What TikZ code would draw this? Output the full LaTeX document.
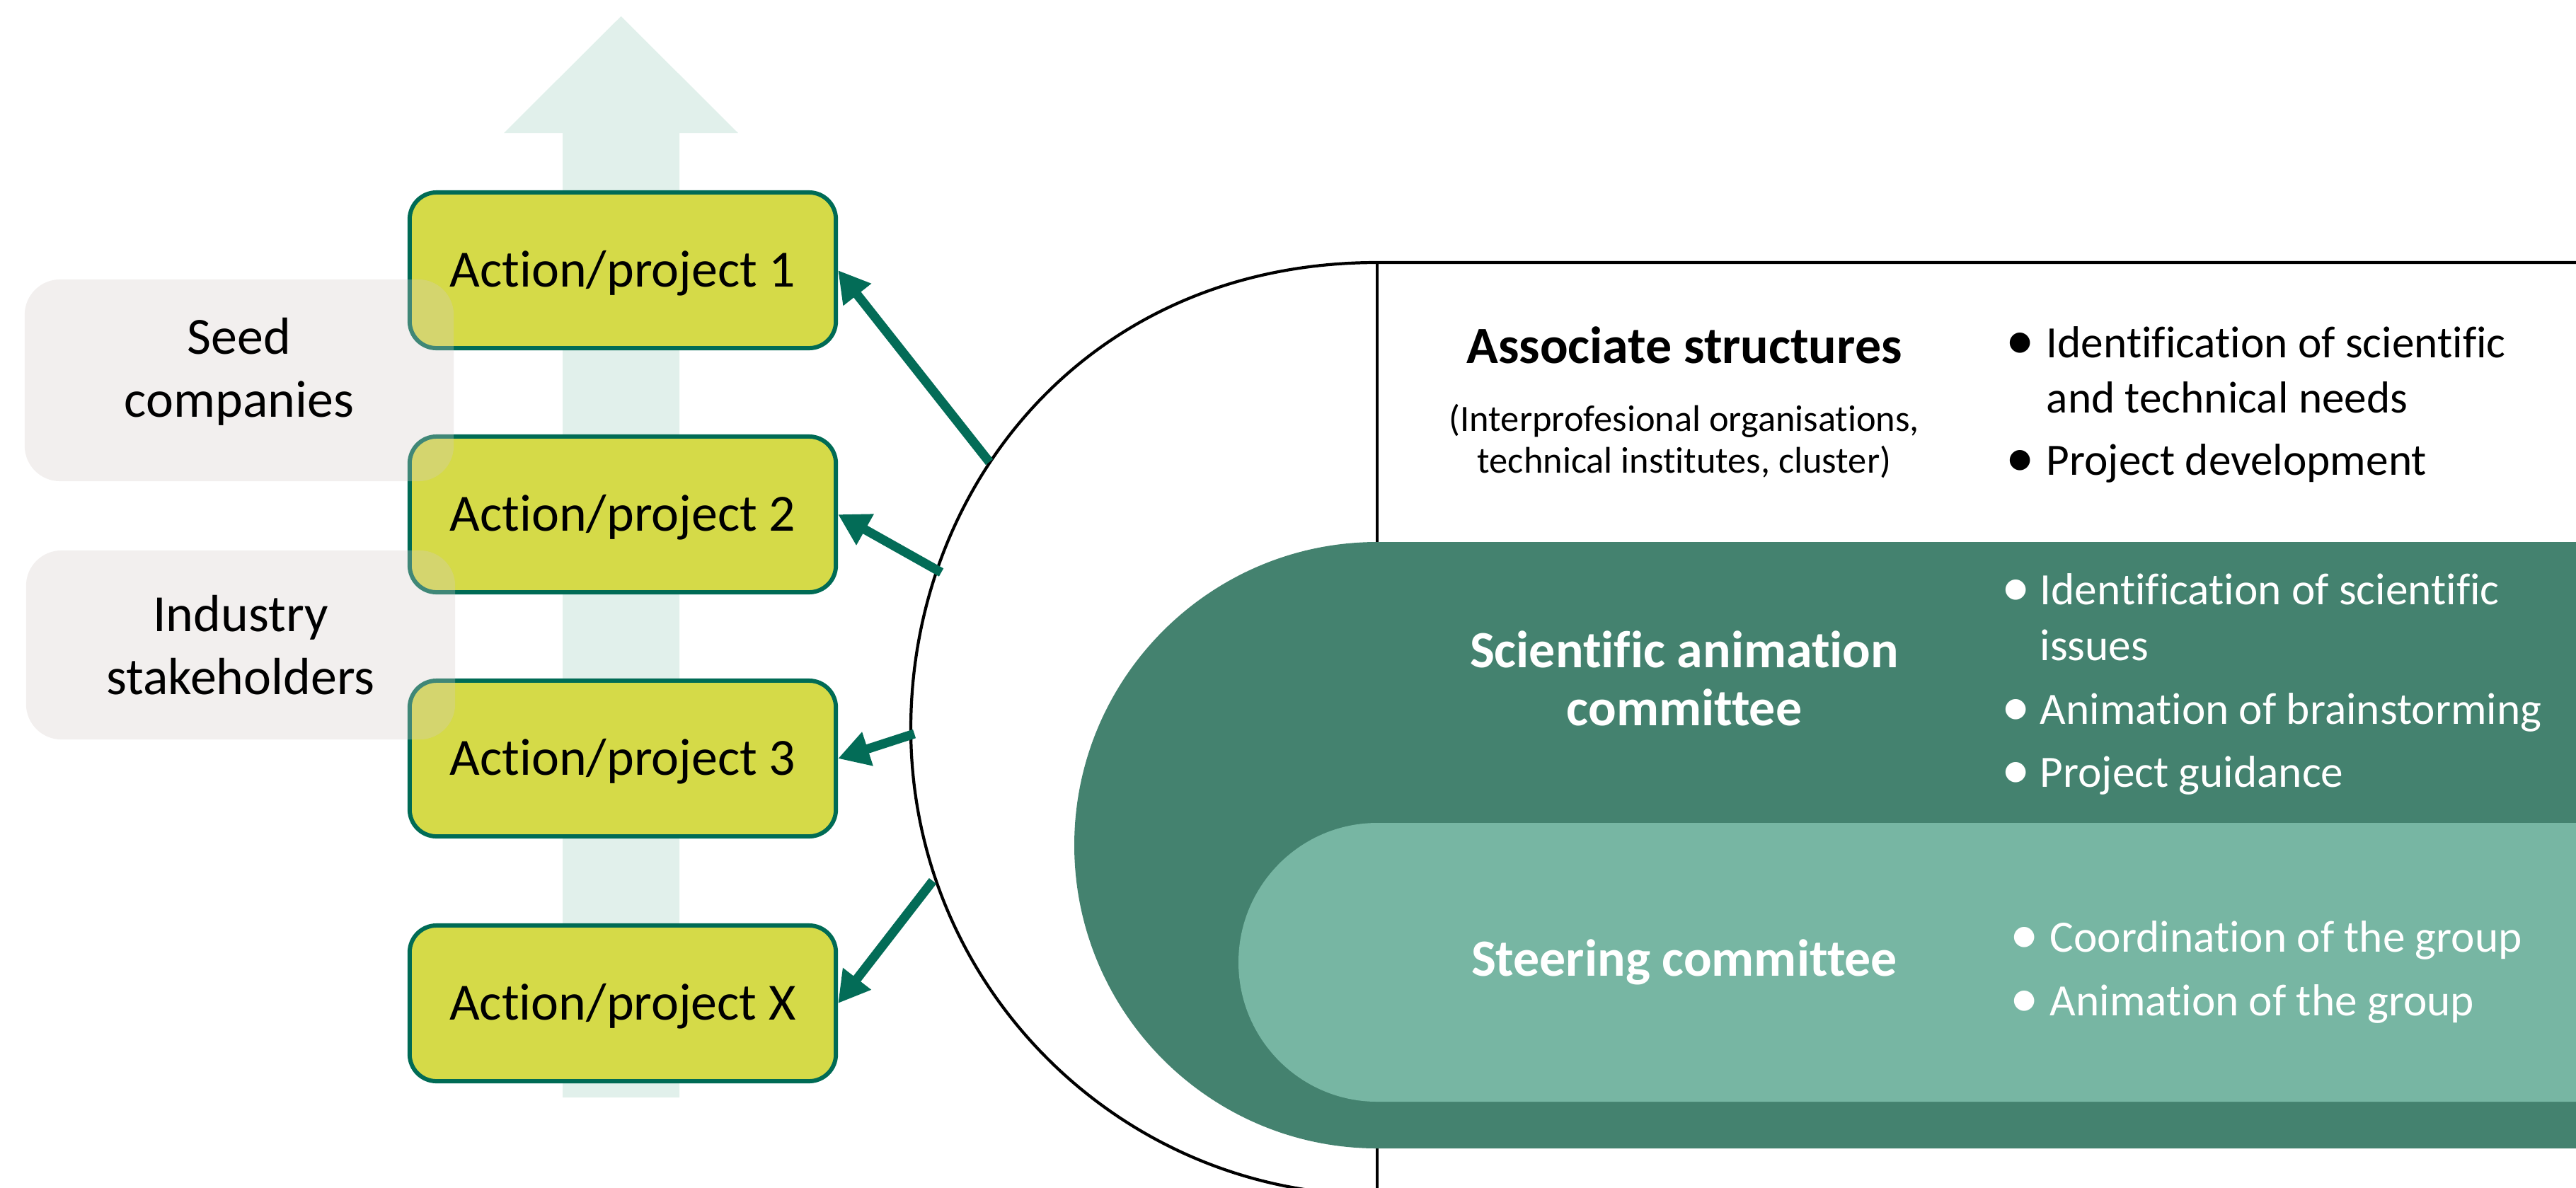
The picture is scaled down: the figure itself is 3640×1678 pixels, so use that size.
\documentclass[tikz,border=0pt]{standalone}
\usepackage{fontspec}
\setmainfont{Carlito}[RawFeature={-liga}]
\usetikzlibrary{arrows.meta}
\definecolor{mint}{HTML}{E1F0EB}
\definecolor{actfill}{HTML}{D5DA48}
\definecolor{boxline}{HTML}{006B55}
\definecolor{arrc}{HTML}{036C57}
\definecolor{grayc}{RGB}{212,202,198}
\definecolor{darkg}{HTML}{44826F}
\definecolor{lightg}{HTML}{77B6A3}
\begin{document}
\begin{tikzpicture}[x=0.01cm,y=-0.01cm,
  actbox/.style={draw=boxline, line width=1.7pt, fill=actfill, rounded corners=0.38cm,
    minimum width=6.02cm, minimum height=2.2cm, inner sep=0pt,
    font=\fontsize{21}{25}\selectfont, text height=13.5pt, text depth=0pt},
  graybox/.style={fill=grayc, fill opacity=0.3, text opacity=1, rounded corners=0.5cm,
    inner sep=0pt, align=center, font=\fontsize{21}{25.2}\selectfont},
  arr/.style={draw=arrc, line width=3.7pt, -{Triangle[length=12.5pt,width=13.5pt]}},
  frame/.style={draw=black, line width=1.2pt},
  head/.style={anchor=base, inner sep=0pt, font=\bfseries\fontsize{21}{23}\selectfont},
  subt/.style={anchor=base, inner sep=0pt, font=\fontsize{14.9}{17}\selectfont},
  btxt/.style={anchor=base west, inner sep=0pt, font=\fontsize{18}{22}\selectfont},
  bdot/.style={anchor=base, inner sep=0pt, font=\fontsize{23}{23}\selectfont}
]
\useasboundingbox (0,0) rectangle (3640,1678);
\clip (0,0) rectangle (3640,1678);

% light upward arrow
\fill[mint] (795,1551) -- (795,188) -- (712,188) -- (877.5,23) -- (1043,188) -- (960,188) -- (960,1551) -- cycle;

% action boxes
\node[actbox] (a1) at (880,382) {Action/project 1};
\node[actbox] (a2) at (880,727) {Action/project 2};
\node[actbox] (a3) at (880,1072) {Action/project 3};
\node[actbox] (a4) at (880,1418) {Action/project X};

% grey stakeholder boxes
\node[graybox, minimum width=6.06cm, minimum height=2.85cm] (g1) at (338,537.5) {Seed\\companies\rule[-0.5em]{0pt}{0pt}};
\node[graybox, minimum width=6.06cm, minimum height=2.67cm] (g2) at (340,911.5) {Industry\\stakeholders};

% outer frame
\draw[frame] (1946,371) -- (1946,1700);
\draw[frame] (3700,371) -- (1946,371) .. controls (1537,371) and (1287,687) .. (1287,1030)
  .. controls (1287,1394) and (1582,1689) .. (1946,1689);

% scientific animation committee shape
\fill[darkg] (3700,766) -- (1946,766) .. controls (1710,766) and (1518,958) .. (1518,1194.5)
  .. controls (1518,1431) and (1710,1623) .. (1946,1623) -- (3700,1623) -- cycle;
% steering committee shape
\fill[lightg] (3700,1163) -- (1946,1163) .. controls (1838,1163) and (1750,1251) .. (1750,1360)
  .. controls (1750,1469) and (1838,1557) .. (1946,1557) -- (3700,1557) -- cycle;

% associate structures
\node[head] (as) at (2380,513) {Associate structures};
\node[subt] (as1) at (2380,609) {(Interprofesional organisations,};
\node[subt] (as2) at (2380,668) {technical institutes, cluster)};
\node[bdot] (d1) at (2855,507) {•};
\node[btxt] (l1) at (2891,505) {Identification of scientific};
\node[btxt] (l2) at (2891,583) {and technical needs};
\node[bdot] (d2) at (2855,673) {•};
\node[btxt] (l3) at (2891,671) {Project development};

% scientific animation committee
\node[head, text=white] (sc1) at (2380,943) {Scientific animation};
\node[head, text=white] (sc2) at (2380,1025) {committee};
\node[bdot, text=white] (d3) at (2849,856) {•};
\node[btxt, text=white] (l4) at (2882,854) {Identification of scientific};
\node[btxt, text=white] (l5) at (2882,933) {issues};
\node[bdot, text=white] (d4) at (2849,1025) {•};
\node[btxt, text=white] (l6) at (2882,1023) {Animation of brainstorming};
\node[bdot, text=white] (d5) at (2849,1114) {•};
\node[btxt, text=white] (l7) at (2882,1112) {Project guidance};

% steering committee
\node[head, text=white] (st) at (2380,1379) {Steering committee};
\node[bdot, text=white] (d6) at (2861,1347) {•};
\node[btxt, text=white] (l8) at (2896,1345) {Coordination of the group};
\node[bdot, text=white] (d7) at (2861,1437) {•};
\node[btxt, text=white] (l9) at (2896,1435) {Animation of the group};

% arrows from the frame to the actions
\coordinate (t1) at (1398,653);
\coordinate (t2) at (1330,809);
\coordinate (t3) at (1292,1037);
\coordinate (t4) at (1318,1245);
\draw[arr] (t1) -- (a1.east);
\draw[arr] (t2) -- (a2.east);
\draw[arr] (t3) -- (a3.east);
\draw[arr] (t4) -- (a4.east);
\end{tikzpicture}
\end{document}
